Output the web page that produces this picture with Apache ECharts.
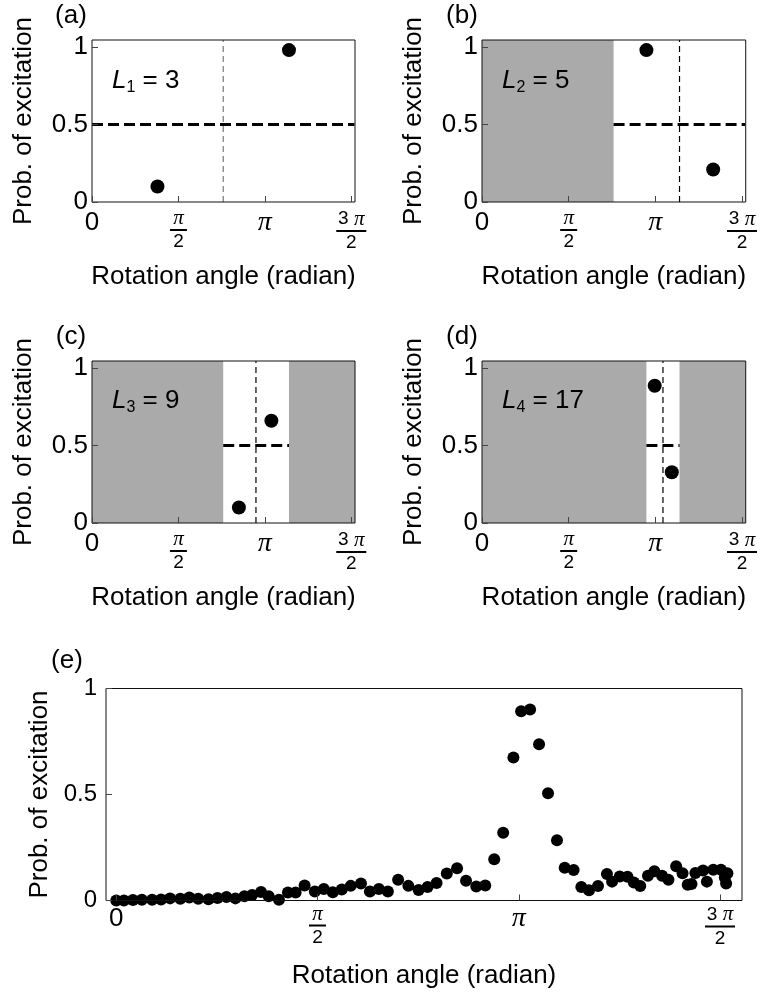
<!DOCTYPE html>
<html><head><meta charset="utf-8">
<script src="https://cdn.jsdelivr.net/npm/echarts@6/dist/echarts.min.js"></script>
<style>html,body{margin:0;padding:0;background:#fff}#c{width:760px;height:998px}</style>
</head><body><div id="c"></div>
<script>
const PI = Math.PI;
const panelLabels = ['(a)', '(b)', '(c)', '(d)', '(e)'];
const levelIndex = ['1', '2', '3', '4'];
const levelValue = ['3', '5', '9', '17'];
const intervalLo = [0, 2.385, 2.385, 2.98];
const intervalHi = [4.77, 4.77, 3.58, 3.58];
const splitAngle = [2.385, 3.58, 2.98, 3.28];
const threshold = [0.5];
const probeX = [[1.19, 3.58], [2.98, 4.19], [2.67, 3.26], [3.13, 3.44]];
const probeY = [[0.10, 0.98], [0.98, 0.21], [0.10, 0.66], [0.885, 0.327]];
const xTickValues = [0, PI / 2, PI, 3 * PI / 2];
const xTickLabels = ['0', 'π/2', 'π', '3π/2'];
const yTickValues = [0, 0.5, 1];
const yTickLabels = ['0', '0.5', '1'];
const scanX = [0.00, 0.06, 0.13, 0.20, 0.28, 0.35, 0.42, 0.50, 0.57, 0.64, 0.72, 0.79, 0.86, 0.93, 1.00, 1.06,
  1.13, 1.19, 1.27, 1.34, 1.40, 1.47, 1.55, 1.62, 1.69, 1.76, 1.83, 1.91, 1.98, 2.05, 2.12, 2.20, 2.28, 2.36,
  2.43, 2.50, 2.58, 2.66, 2.73, 2.81, 2.88, 2.95, 3.02, 3.10, 3.16, 3.23, 3.30, 3.37, 3.44, 3.50, 3.57, 3.63,
  3.69, 3.76, 3.83, 3.87, 3.93, 3.99, 4.04, 4.09, 4.15, 4.20, 4.26, 4.31, 4.37, 4.42, 4.46, 4.49, 4.52, 4.58,
  4.61, 4.66, 4.72, 4.75, 4.76, 4.77];
const scanY = [0.000, 0.000, 0.002, 0.003, 0.003, 0.005, 0.010, 0.008, 0.014, 0.008, 0.006, 0.012, 0.016, 0.010, 0.020, 0.026,
  0.040, 0.020, 0.004, 0.038, 0.038, 0.071, 0.042, 0.054, 0.039, 0.052, 0.069, 0.080, 0.042, 0.054, 0.042, 0.098, 0.069, 0.050,
  0.064, 0.083, 0.127, 0.152, 0.093, 0.066, 0.071, 0.195, 0.320, 0.674, 0.893, 0.901, 0.737, 0.506, 0.284, 0.155, 0.144, 0.064,
  0.048, 0.068, 0.125, 0.089, 0.113, 0.112, 0.085, 0.068, 0.117, 0.138, 0.117, 0.098, 0.162, 0.129, 0.074, 0.078, 0.130, 0.142,
  0.089, 0.145, 0.145, 0.109, 0.080, 0.129];
const xRangeSmall = [0, 4.78];
const yRangeSmall = [0, 1.045];
const xRangeScan = [-0.08, 4.884];
const yRangeScan = [0, 1];

const SANS = 'Liberation Sans';
const SERIF = 'Liberation Serif';

const gridsSmall = [
  {left: 92, top: 40, width: 263, height: 162},
  {left: 482, top: 40, width: 264, height: 162},
  {left: 92, top: 361, width: 263, height: 162},
  {left: 482, top: 361, width: 264, height: 162}
];
const gridScan = {left: 106, top: 688.5, width: 636, height: 212};
const labelPos = [[71, 16], [462, 16], [71, 337], [462, 337], [67, 661]];
const levelPos = [[112, 66], [502, 66], [112, 386], [502, 386]];

function xLabel(v) {
  const i = xTickValues.findIndex(t => Math.abs(t - v) < 1e-6);
  if (i < 0) return '';
  const s = xTickLabels[i];
  if (s === '0') return '{z|0}';
  if (s === 'π') return '{p|π}';
  const parts = s.split('/');
  const num = parts[0], den = parts[1];
  if (num === 'π') return '{np|π}\n{bar|}\n{nd|' + den + '}';
  return '{nd|' + num.replace('π', '') + ' }{np|π}\n{bar2|}\n{nd|' + den + '}';
}
function yLabel(v) {
  const i = yTickValues.findIndex(t => Math.abs(t - v) < 1e-6);
  return i < 0 ? '' : yTickLabels[i];
}
function richX(big) {
  return {
    z: {fontFamily: SANS, fontSize: big, lineHeight: big, color: '#000'},
    p: {fontFamily: SERIF, fontStyle: 'italic', fontSize: big + 2, lineHeight: big, color: '#000'},
    np: {fontFamily: SERIF, fontStyle: 'italic', fontSize: 21, lineHeight: 17, color: '#000'},
    nd: {fontFamily: SANS, fontSize: 19, lineHeight: 18, color: '#000'},
    bar: {width: 17, height: 2, lineHeight: 6, backgroundColor: '#000'},
    bar2: {width: 30, height: 2, lineHeight: 6, backgroundColor: '#000'}
  };
}

const grids = [], xAxes = [], yAxes = [], series = [], graphics = [];

function addAxes(idx, xr, yr, labelSize, xMargin, yMargin, yGap) {
  xAxes.push({
    gridIndex: idx, type: 'value', min: xr[0], max: xr[1], z: 10,
    axisLine: {show: false, onZero: false}, splitLine: {show: false},
    axisTick: {show: true, inside: true, length: 6, customValues: xTickValues, lineStyle: {color: '#444', width: 1}},
    axisLabel: {show: true, customValues: xTickValues, margin: xMargin, formatter: xLabel, rich: richX(26), color: '#000'},
    name: 'Rotation angle (radian)', nameLocation: 'middle', nameGap: 62,
    nameTextStyle: {fontFamily: SANS, fontSize: 26, color: '#000'}
  });
  yAxes.push({
    gridIndex: idx, type: 'value', min: yr[0], max: yr[1], z: 10,
    axisLine: {show: false, onZero: false}, splitLine: {show: false},
    axisTick: {show: true, inside: true, length: 6, customValues: yTickValues, lineStyle: {color: '#444', width: 1}},
    axisLabel: {show: true, customValues: yTickValues, margin: yMargin, formatter: yLabel,
      fontFamily: SANS, fontSize: labelSize, color: '#000'},
    name: 'Prob. of excitation', nameLocation: 'middle', nameRotate: 90, nameGap: yGap,
    nameTextStyle: {fontFamily: SANS, fontSize: 26, color: '#000'}
  });
}

for (let i = 0; i < 4; i++) {
  grids.push(Object.assign({show: true, z: 10, borderColor: '#111', borderWidth: 1, backgroundColor: 'transparent'}, gridsSmall[i]));
  addAxes(i, xRangeSmall, yRangeSmall, 26, 8, 4, 55);
  const gray = [];
  if (intervalLo[i] > xRangeSmall[0] + 0.01) gray.push([{xAxis: xRangeSmall[0]}, {xAxis: intervalLo[i]}]);
  if (intervalHi[i] < xRangeSmall[1] - 0.1) gray.push([{xAxis: intervalHi[i]}, {xAxis: xRangeSmall[1]}]);
  series.push({
    type: 'line', xAxisIndex: i, yAxisIndex: i, z: 1, silent: true, symbol: 'none',
    data: [[intervalLo[i], threshold[0]]], lineStyle: {width: 0},
    markArea: {silent: true, itemStyle: {color: '#aaaaaa', opacity: 1}, data: gray}
  });
  series.push({
    type: 'line', xAxisIndex: i, yAxisIndex: i, z: 3, silent: true, symbol: 'none',
    data: [[splitAngle[i], yRangeSmall[0]], [splitAngle[i], yRangeSmall[1]]],
    lineStyle: {color: i === 0 ? '#777' : '#000', width: 1.2, type: [6, 4]}
  });
  series.push({
    type: 'line', xAxisIndex: i, yAxisIndex: i, z: 4, silent: true, symbol: 'none',
    data: [[intervalLo[i], threshold[0]], [intervalHi[i], threshold[0]]],
    lineStyle: {color: '#000', width: 3, type: [11, 5]}
  });
  series.push({
    type: 'scatter', xAxisIndex: i, yAxisIndex: i, z: 5, silent: true, symbolSize: 14, clip: false,
    itemStyle: {color: '#000', opacity: 1},
    data: probeX[i].map((x, k) => [x, probeY[i][k]])
  });
  graphics.push({
    type: 'text', x: levelPos[i][0], y: levelPos[i][1], z: 20,
    style: {
      text: '{i|L}{s|' + levelIndex[i] + '}{n| = ' + levelValue[i] + '}',
      align: 'left', verticalAlign: 'top',
      rich: {
        i: {fontFamily: SANS, fontStyle: 'italic', fontSize: 26, lineHeight: 30, fill: '#000', color: '#000'},
        s: {fontFamily: SANS, fontSize: 16, lineHeight: 14, verticalAlign: 'bottom', fill: '#000', color: '#000'},
        n: {fontFamily: SANS, fontSize: 26, lineHeight: 30, fill: '#000', color: '#000'}
      }
    }
  });
}

grids.push(Object.assign({show: true, z: 10, borderColor: '#111', borderWidth: 1, backgroundColor: 'transparent'}, gridScan));
addAxes(4, xRangeScan, yRangeScan, 24, 5, 9, 53);
series.push({
  type: 'scatter', xAxisIndex: 4, yAxisIndex: 4, z: 5, silent: true, symbolSize: 12, clip: false,
  itemStyle: {color: '#000', opacity: 1},
  data: scanX.map((x, k) => [x, scanY[k]])
});

for (let i = 0; i < 5; i++) {
  graphics.push({
    type: 'text', x: labelPos[i][0], y: labelPos[i][1], z: 20,
    style: {text: panelLabels[i], font: '26px "Liberation Sans"', fill: '#000', align: 'center', verticalAlign: 'middle'}
  });
}

const chart = echarts.init(document.getElementById('c'), null, {renderer: 'canvas'});
chart.setOption({
  animation: false,
  backgroundColor: '#fff',
  grid: grids, xAxis: xAxes, yAxis: yAxes, series: series, graphic: graphics
});
</script></body></html>
